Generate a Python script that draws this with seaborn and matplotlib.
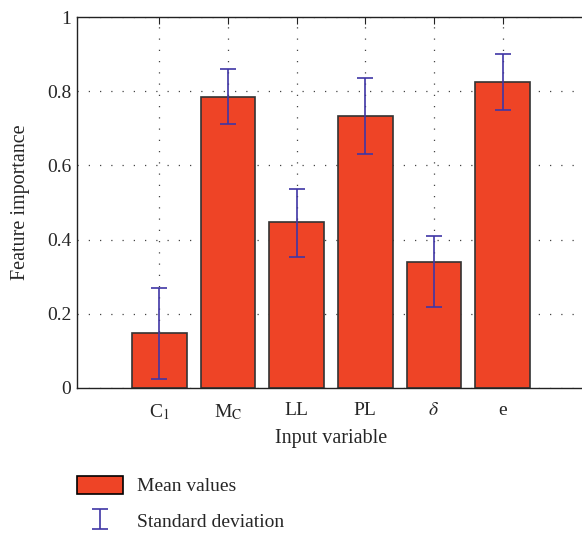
import matplotlib
matplotlib.use('Agg')
import matplotlib.pyplot as plt
import seaborn as sns
import pandas as pd
from matplotlib.patches import Patch

# данные
labels = [r'C$_1$', r'M$_\mathrm{C}$', 'LL', 'PL', r'$\delta$', 'e']
means = [0.148, 0.785, 0.447, 0.734, 0.339, 0.826]
err_low = [0.125, 0.073, 0.093, 0.102, 0.120, 0.078]
err_high = [0.122, 0.075, 0.089, 0.101, 0.070, 0.073]

bar_color = '#ee4426'
err_color = '#3f36a6'

sns.set_style('white')
plt.rcParams['font.family'] = ['Liberation Serif', 'DejaVu Serif']
plt.rcParams['mathtext.fontset'] = 'stix'

df = pd.DataFrame({'var': labels, 'imp': means})

fig = plt.figure(figsize=(5.82, 5.33), dpi=100)
ax = fig.add_axes([77 / 582, 145 / 533, 508 / 582, 371 / 533])

sns.barplot(data=df, x='var', y='imp', ax=ax, color=bar_color,
            saturation=1, width=0.8, edgecolor='#333333', linewidth=1.2,
            errorbar=None)
eb = ax.errorbar(range(len(labels)), means, yerr=[err_low, err_high],
                 fmt='none', ecolor=err_color, elinewidth=1.2, capsize=6,
                 capthick=1.2, zorder=5)

ax.set_xlim(-1.2, 6.2)
ax.set_ylim(0, 1)
ax.set_yticks([0, 0.2, 0.4, 0.6, 0.8, 1])
ax.set_yticklabels(['0', '0.2', '0.4', '0.6', '0.8', '1'])
ax.grid(True, linestyle=(0, (1, 8)), color='#444444', linewidth=0.9)
ax.set_axisbelow(True)
for s in ax.spines.values():
    s.set_color('#222222')
    s.set_linewidth(1.0)
ax.tick_params(axis='x', direction='in', top=True, length=5, pad=10,
               labelsize=14, color='#222222')
ax.tick_params(axis='y', direction='in', left=False, length=0, pad=4,
               labelsize=14)
ax.set_xlabel('Input variable', fontsize=14.5, labelpad=5)
ax.set_ylabel('Feature importance', fontsize=14.5, labelpad=12)

# легенда снизу
h_bar = Patch(facecolor=bar_color, edgecolor='black', linewidth=1.2)
fig.legend([h_bar, eb], ['Mean values', 'Standard deviation'],
           loc='upper left', bbox_to_anchor=(59 / 582, 1 - 458 / 533),
           frameon=False, prop={'size': 14}, handlelength=2.4,
           handleheight=1.1, handletextpad=0.7, labelspacing=0.8)

fig.savefig('out.png', dpi=100)
